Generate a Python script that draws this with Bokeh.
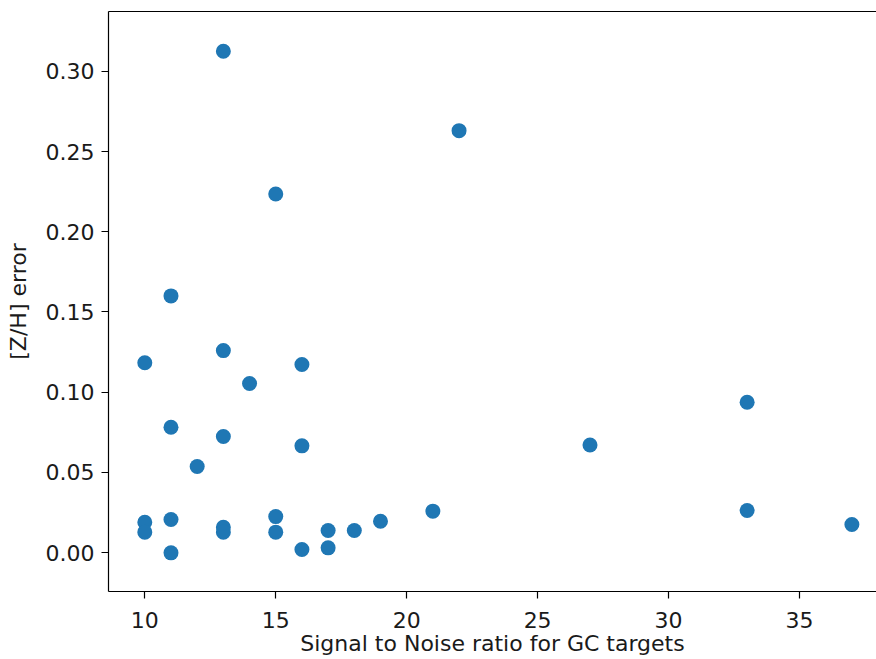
from bokeh.plotting import figure
from bokeh.models import Range1d, FixedTicker, PrintfTickFormatter, LinearAxis
from bokeh.embed import file_html
from bokeh.resources import INLINE

# Data
sn = [13, 22, 15, 11, 10, 13, 16, 14, 33, 11, 13, 16, 27, 12,
      10, 10, 11, 11, 13, 13, 15, 15, 16, 17, 17, 18, 19, 21, 33, 37]
zh_err = [0.3125, 0.263, 0.2235, 0.160, 0.1183, 0.1259, 0.1172, 0.1054, 0.0937,
          0.0781, 0.0723, 0.0665, 0.067, 0.0536,
          0.0189, 0.0127, 0.0206, -0.0002, 0.0158, 0.0127, 0.0224, 0.0127,
          0.0019, 0.0137, 0.0029, 0.0137, 0.0195, 0.0258, 0.0262, 0.0175]
x_ticks = [10, 15, 20, 25, 30, 35]
y_ticks = [0.00, 0.05, 0.10, 0.15, 0.20, 0.25, 0.30]
x_label = "Signal to Noise ratio for GC targets"
y_label = "[Z/H] error"

FONT = "DejaVu Sans"
FS = "22px"
TXT = "#1a1a1a"

p = figure(width=876, height=659, output_backend="svg", toolbar_location=None,
           x_range=Range1d(8.614, 37.94), y_range=Range1d(-0.0243, 0.3373),
           min_border_left=108, min_border_right=0, min_border_top=11,
           min_border_bottom=68)
p.outline_line_color = None
p.grid.visible = False
p.background_fill_color = "white"
p.border_fill_color = "white"

p.scatter(sn, zh_err, size=15, color="#1f77b4", line_color=None)

for ax, ticks in ((p.xaxis[0], x_ticks), (p.yaxis[0], y_ticks)):
    ax.ticker = FixedTicker(ticks=ticks)
    ax.minor_tick_line_color = None
    ax.major_tick_out = 7
    ax.major_tick_in = 0
    ax.major_tick_line_color = "black"
    ax.axis_line_color = "black"
    ax.axis_line_width = 1.2
    ax.major_tick_line_width = 1.2
    ax.major_label_text_font = FONT
    ax.major_label_text_font_size = FS
    ax.major_label_text_color = TXT
    ax.axis_label_text_font = FONT
    ax.axis_label_text_font_size = FS
    ax.axis_label_text_font_style = "normal"
    ax.axis_label_text_color = TXT
    ax.major_label_standoff = 7

p.xaxis[0].major_label_standoff = 13
p.yaxis[0].formatter = PrintfTickFormatter(format="%.2f")
p.xaxis[0].axis_label = x_label
p.yaxis[0].axis_label = y_label
p.xaxis[0].axis_label_standoff = 0
p.yaxis[0].axis_label_standoff = 12

top = LinearAxis(ticker=FixedTicker(ticks=[]), major_label_text_font_size="0px",
                 major_tick_out=0, minor_tick_out=0, axis_line_color="black",
                 axis_line_width=1.2)
p.add_layout(top, "above")

open("out.html", "w").write(file_html(p, INLINE))
